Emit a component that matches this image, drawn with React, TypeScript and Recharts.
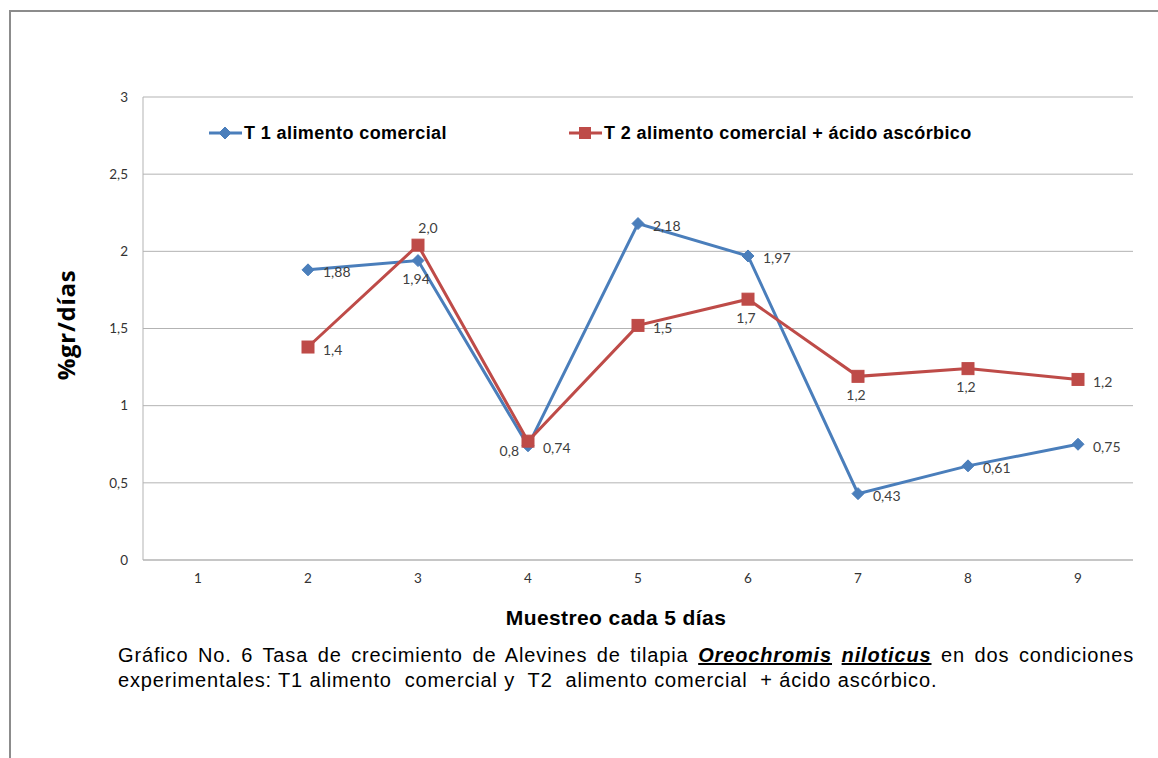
import React from 'react';
import { LineChart, Line, XAxis, YAxis, CartesianGrid, LabelList } from 'recharts';

const CATEGORIES = ['1', '2', '3', '4', '5', '6', '7', '8', '9'];
const T1_VALUES: (number | null)[] = [null, 1.88, 1.94, 0.74, 2.18, 1.97, 0.43, 0.61, 0.75];
const T2_VALUES: (number | null)[] = [null, 1.38, 2.04, 0.77, 1.52, 1.69, 1.19, 1.24, 1.17];
const Y_TICKS = [0, 0.5, 1, 1.5, 2, 2.5, 3];
const T1_NAME = 'T 1 alimento comercial';
const T2_NAME = 'T 2 alimento comercial + ácido ascórbico';
const T1_LABEL_POS = ['right', 'right', 'below', 'right', 'right', 'right', 'right', 'right', 'right'];
const T2_LABEL_POS = ['right', 'right', 'above', 'left', 'right', 'below', 'below', 'below', 'right'];

const BLUE = '#4a7ebb';
const RED = '#be4b48';

const data = CATEGORIES.map((c, i) => ({ cat: c, t1: T1_VALUES[i], t2: T2_VALUES[i] }));

const fmt = (v: number, d: number) => v.toFixed(d).replace('.', ',');

const Diamond = ({ cx, cy, r = 6, color }: any) => (
  <path d={`M${cx},${cy - r} L${cx + r},${cy} L${cx},${cy + r} L${cx - r},${cy} Z`} fill={color} stroke={color} strokeWidth={1} />
);
const Square = ({ cx, cy, s = 12, color }: any) => (
  <rect x={cx - s / 2} y={cy - s / 2} width={s} height={s} fill={color} stroke={color} strokeWidth={1} />
);

const makeLabel = (positions: string[], decimals: number) => (props: any) => {
  const { x, y, value, index } = props;
  if (value === null || value === undefined || x == null || y == null) return null;
  const pos = positions[index];
  let tx = x + 15, ty = y + 2, anchor = 'start';
  if (pos === 'below') { tx = x - 2; ty = y + 18; anchor = 'middle'; }
  else if (pos === 'above') { tx = x + 10; ty = y - 18; anchor = 'middle'; }
  else if (pos === 'left') { tx = x - 9; ty = y + 9; anchor = 'end'; }
  return (
    <text key={`l${index}`} x={tx} y={ty} textAnchor={anchor} dominantBaseline="central"
      fontFamily="Lato, 'Open Sans', sans-serif" fontSize={14} fill="#404040">
      {fmt(Number(value), decimals)}
    </text>
  );
};

const legendStyle: React.CSSProperties = {
  position: 'absolute', top: 122, height: 22, display: 'flex', alignItems: 'center',
  fontFamily: "'Liberation Sans', Arial, sans-serif", fontWeight: 'bold', fontSize: 18, letterSpacing: 0.4, color: '#000', whiteSpace: 'nowrap',
};

export default function App() {
  return (
    <div style={{ position: 'absolute', left: 0, top: 0, width: 1158, height: 758, background: '#fff', overflow: 'hidden' }}>
      <div style={{ position: 'absolute', left: 9, top: 10, width: 1158, height: 760, borderTop: '2px solid #8c8c8c', borderLeft: '2px solid #8c8c8c' }} />
      <div style={{ position: 'absolute', left: 0, top: 0 }}>
        <LineChart width={1158} height={640} data={data} margin={{ top: 97, right: 25, bottom: 50, left: 83 }}>
          <CartesianGrid vertical={false} stroke="#b3b3b3" strokeWidth={1} />
          <XAxis dataKey="cat" scale="band" axisLine={{ stroke: '#b3b3b3' }} tickLine={false} tickSize={0} tickMargin={13} height={30}
            tick={{ fontFamily: "Lato, 'Open Sans', sans-serif", fontSize: 13.5, fill: '#333' }} interval={0} />
          <YAxis domain={[0, 3]} ticks={Y_TICKS} width={60} axisLine={{ stroke: '#b3b3b3' }} tickLine={false} tickSize={0} tickMargin={15}
            tickFormatter={(v: number) => String(v).replace('.', ',')}
            tick={{ fontFamily: "Lato, 'Open Sans', sans-serif", fontSize: 13.5, fill: '#333' }} />
          <Line dataKey="t1" name={T1_NAME} stroke={BLUE} strokeWidth={3} isAnimationActive={false} connectNulls={false}
            dot={(p: any) => (p.value == null ? <g key={`d1${p.index}`} /> : <Diamond key={`d1${p.index}`} cx={p.cx} cy={p.cy} color={BLUE} />)}
            activeDot={false}>
            <LabelList dataKey="t1" content={makeLabel(T1_LABEL_POS, 2)} />
          </Line>
          <Line dataKey="t2" name={T2_NAME} stroke={RED} strokeWidth={3} isAnimationActive={false} connectNulls={false}
            dot={(p: any) => (p.value == null ? <g key={`d2${p.index}`} /> : <Square key={`d2${p.index}`} cx={p.cx} cy={p.cy} color={RED} />)}
            activeDot={false}>
            <LabelList dataKey="t2" content={makeLabel(T2_LABEL_POS, 1)} />
          </Line>
        </LineChart>
      </div>
      {/* Legend */}
      <div style={{ ...legendStyle, left: 209 }}>
        <svg width={34} height={22}><line x1={0} y1={11} x2={33} y2={11} stroke={BLUE} strokeWidth={3} /><Diamond cx={16} cy={11} r={6} color={BLUE} /></svg>
        <span style={{ marginLeft: 1 }}>{T1_NAME}</span>
      </div>
      <div style={{ ...legendStyle, left: 569 }}>
        <svg width={34} height={22}><line x1={0} y1={11} x2={33} y2={11} stroke={RED} strokeWidth={3} /><Square cx={16} cy={11} s={11} color={RED} /></svg>
        <span style={{ marginLeft: 1 }}>{T2_NAME}</span>
      </div>
      {/* Y axis title */}
      <div style={{ position: 'absolute', left: 65, top: 325, transform: 'translate(-50%, -50%) rotate(-90deg)', whiteSpace: 'nowrap', fontFamily: "'Open Sans', 'Liberation Sans', sans-serif", fontWeight: 'bold', fontSize: 24, letterSpacing: 0.7, color: '#000' }}>
        %gr/días
      </div>
      {/* X axis title */}
      <div style={{ position: 'absolute', left: 616, top: 618, transform: 'translate(-50%, -50%)', whiteSpace: 'nowrap', fontFamily: "'Liberation Sans', Arial, sans-serif", fontWeight: 'bold', fontSize: 21, letterSpacing: 0.4, color: '#000' }}>
        Muestreo cada 5 días
      </div>
      {/* Caption */}
      <div style={{ position: 'absolute', left: 118, top: 643, width: 1016, fontFamily: "'Liberation Sans', Arial, sans-serif", fontSize: 20, letterSpacing: 0.85, lineHeight: '25px', color: '#000' }}>
        <div style={{ textAlign: 'justify', textAlignLast: 'justify', whiteSpace: 'normal' } as any}>
          Gráfico No. 6 Tasa de crecimiento de Alevines de tilapia{' '}
          <b><i><u>Oreochromis</u></i></b>{' '}<b><i><u>niloticus</u></i></b> en dos condiciones
        </div>
        <div style={{ whiteSpace: 'pre' }}>experimentales: T1 alimento  comercial y  T2  alimento comercial  + ácido ascórbico.</div>
      </div>
    </div>
  );
}
